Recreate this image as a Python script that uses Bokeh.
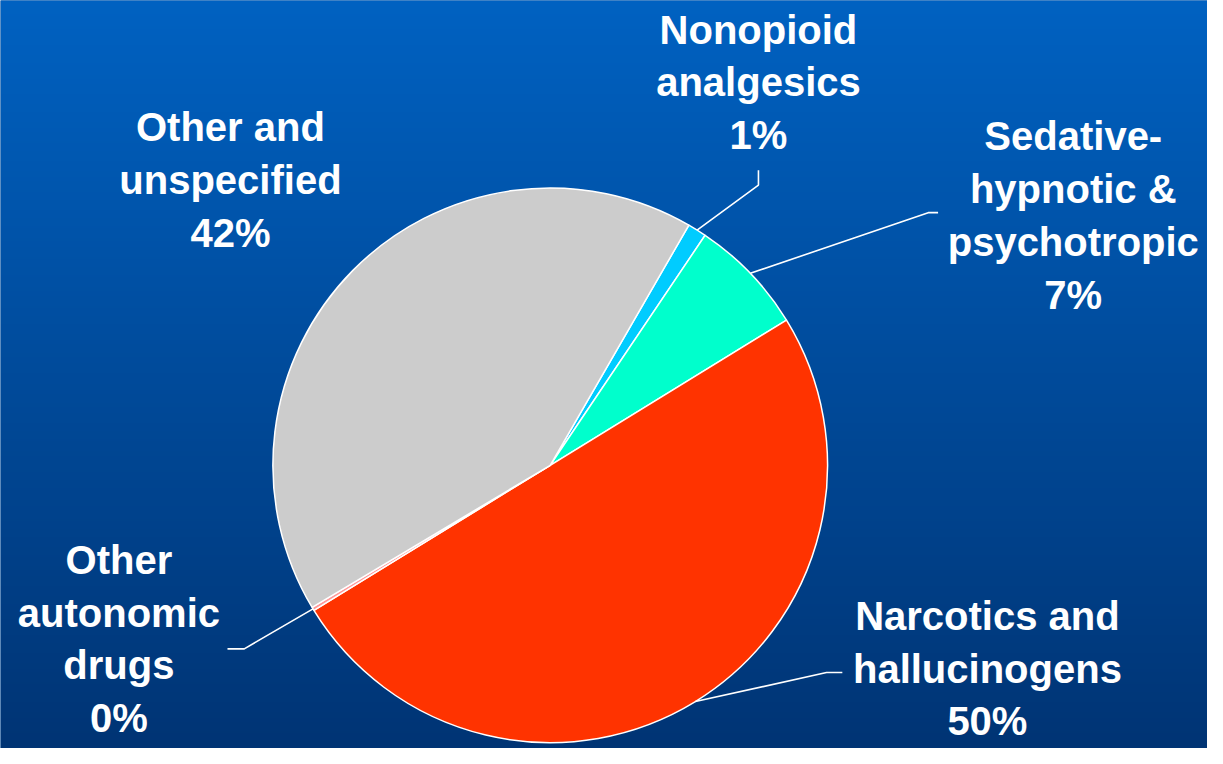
import numpy as np
from bokeh.plotting import figure
from bokeh.models import Range1d, ColumnDataSource
from bokeh.core.properties import value
from bokeh.embed import file_html
from bokeh.resources import INLINE

# ---- data ----
categories = ["Nonopioid\nanalgesics", "Sedative-\nhypnotic &\npsychotropic",
              "Narcotics and\nhallucinogens", "Other\nautonomic\ndrugs",
              "Other and\nunspecified"]
values = [1.1, 6.8, 50.0, 0.2, 41.9]
colors = ["#00CCFF", "#00FFCC", "#FF3300", "#FF9999", "#CCCCCC"]

# ---- layout (reference pixel coordinates, y downward) ----
W, H = 1223, 764
cx, cy, R = 557, 474, 281
start_deg = 60.0
label_xy = [(768, 86), (1087, 221), (1000, 680), (120, 650), (233, 185)]
# elbow points for leader lines (None = no line)
elbows = [[(768, 190), (768, 175)],
          [(940, 218), (950, 218)],
          [(837, 684), (853, 684)],
          [(247, 660), (230, 660)],
          None]

def Y(y):
    return H - y

p = figure(width=1207, height=748, output_backend="svg", toolbar_location=None,
           min_border=0, x_range=Range1d(0, W), y_range=Range1d(Y(761), Y(3)))
p.axis.visible = False
p.grid.visible = False
p.outline_line_color = None
p.background_fill_color = "#004a9a"
p.border_fill_color = "#004a9a"

# background gradient
rows = 384
top = np.array([0, 98, 194], dtype=float)
bot = np.array([0, 52, 116], dtype=float)
t = np.linspace(0, 1, rows)[:, None]
rgb = bot * (1 - t) + top * t  # row 0 is bottom
img = np.zeros((rows, 2), dtype=np.uint32)
view = img.view(dtype=np.uint8).reshape((rows, 2, 4))
for j in range(2):
    view[:, j, 0] = rgb[:, 0].astype(np.uint8)
    view[:, j, 1] = rgb[:, 1].astype(np.uint8)
    view[:, j, 2] = rgb[:, 2].astype(np.uint8)
    view[:, j, 3] = 255
p.image_rgba(image=[img], x=0, y=0, dw=W, dh=H)

# wedges
vals = np.array(values)
frac = vals / vals.sum()
cum = np.concatenate([[0], np.cumsum(frac)])
starts = np.radians(start_deg - cum[:-1] * 360)
ends = np.radians(start_deg - cum[1:] * 360)
src = ColumnDataSource(dict(start=starts, end=ends, color=colors))
p.wedge(x=cx, y=Y(cy), radius=R, start_angle="start", end_angle="end",
        direction="clock", fill_color="color", line_color="white",
        line_width=1.5, source=src)

# leader lines
mids = (starts + ends) / 2
for i, el in enumerate(elbows):
    if el is None:
        continue
    ex = cx + R * np.cos(mids[i])
    ey = cy - R * np.sin(mids[i])
    xs = [ex] + [e[0] for e in el]
    ys = [Y(ey)] + [Y(e[1]) for e in el]
    p.line(xs, ys, line_color="white", line_width=1.6)

# labels
pct = [f"{int(round(v / vals.sum() * 100))}%" for v in vals]
texts = [c + "\n" + s for c, s in zip(categories, pct)]
p.text(x=[l[0] for l in label_xy], y=[Y(l[1]) for l in label_xy], text=texts,
       text_font=value("Liberation Sans"), text_font_style="bold",
       text_font_size="40px", text_color="white", text_align="center",
       text_baseline="middle", text_line_height=1.2)

open("out.html", "w").write(file_html(p, INLINE))
